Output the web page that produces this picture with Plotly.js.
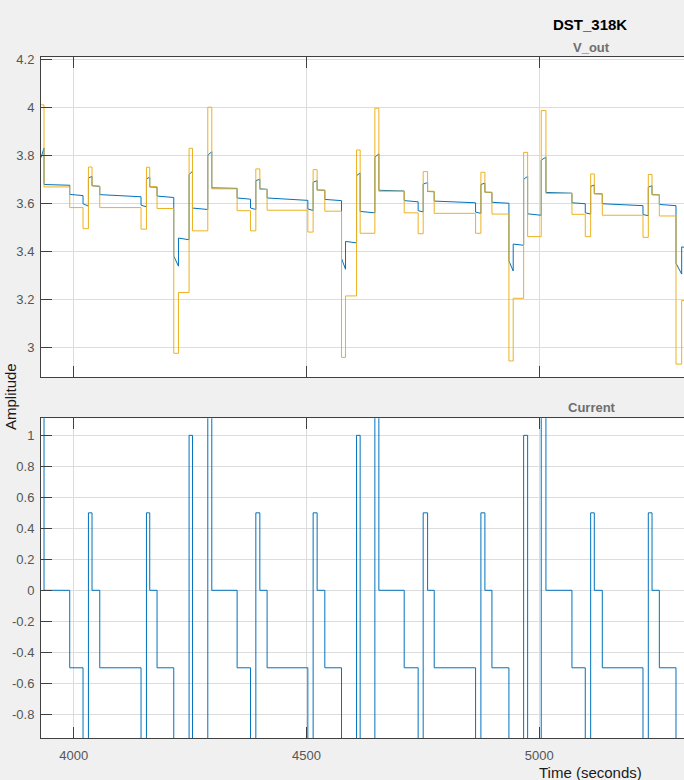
<!DOCTYPE html>
<html>
<head>
<meta charset="utf-8">
<script src="https://cdn.plot.ly/plotly-3.0.1.min.js"></script>
<style>
  html, body { margin: 0; padding: 0; background: #f0f0f0; overflow: hidden; }
  #chart { width: 684px; height: 780px; }
</style>
</head>
<body>
<div id="chart"></div>
<script>
// Start time (s) of every step of the current profile visible in the window
const stepTimes = [
  3929.7, 3936.2, 3991.4, 4020.0, 4031.6, 4039.3, 4055.9, 4144.6, 4156.2, 4163.3, 4179.0, 4214.9, 4225.0, 4247.8, 4255.1, 4288.0,
  4296.6, 4351.0, 4379.8, 4391.2, 4399.8, 4415.4, 4502.9, 4514.3, 4522.9, 4539.4, 4575.3, 4583.9, 4607.6, 4615.3, 4646.9,
  4655.5, 4709.9, 4739.9, 4750.7, 4760.2, 4774.4, 4863.3, 4874.7, 4883.3, 4898.4, 4934.9, 4944.1, 4966.5, 4975.1, 5004.3,
  5014.4, 5070.3, 5098.9, 5110.5, 5118.3, 5135.5, 5222.9, 5234.3, 5242.3, 5258.0, 5293.8, 5306.0
];
const tEnd = 5311;

// Current level of each step
const currentLevels = [
  2, 0, -0.5, -1, 0.5, 0, -0.5, -1, 0.5, 0, -0.5, -4, -2.5, 1, -1, 2,
  0, -0.5, -1, 0.5, 0, -0.5, -1, 0.5, 0, -0.5, -4, -2.5, 1, -1, 2,
  0, -0.5, -1, 0.5, 0, -0.5, -1, 0.5, 0, -0.5, -4, -2.5, 1, -1, 2,
  0, -0.5, -1, 0.5, 0, -0.5, -1, 0.5, 0, -0.5, -4, -2.5
];

// V_out, yellow signal: level in each step
const vYellow = [
  4.010, 3.668, 3.582, 3.494, 3.751, 3.672, 3.582, 3.492, 3.750, 3.669, 3.578, 2.975, 3.228, 3.829, 3.485, 4.000,
  3.660, 3.569, 3.485, 3.743, 3.658, 3.571, 3.480, 3.740, 3.655, 3.567, 2.958, 3.214, 3.822, 3.475, 3.996,
  3.650, 3.560, 3.473, 3.732, 3.650, 3.558, 3.475, 3.729, 3.646, 3.555, 2.943, 3.204, 3.812, 3.461, 3.986,
  3.641, 3.554, 3.461, 3.722, 3.639, 3.550, 3.458, 3.720, 3.635, 3.547, 2.930, 3.195
];

// V_out, blue signal: value at the start and at the end of each step
const vBlueStart = [
  3.790, 3.678, 3.637, 3.598, 3.705, 3.673, 3.636, 3.592, 3.702, 3.668, 3.630, 3.380, 3.455, 3.720, 3.580, 3.800,
  3.664, 3.622, 3.580, 3.694, 3.660, 3.622, 3.576, 3.688, 3.655, 3.616, 3.370, 3.441, 3.715, 3.566, 3.792,
  3.654, 3.611, 3.569, 3.680, 3.649, 3.609, 3.563, 3.678, 3.646, 3.604, 3.360, 3.430, 3.700, 3.556, 3.780,
  3.645, 3.602, 3.560, 3.670, 3.640, 3.598, 3.553, 3.667, 3.636, 3.595, 3.350, 3.418
];
const vBlueEnd = [
  3.830, 3.675, 3.632, 3.588, 3.712, 3.670, 3.627, 3.585, 3.708, 3.667, 3.624, 3.338, 3.448, 3.733, 3.574, 3.815,
  3.662, 3.617, 3.574, 3.700, 3.658, 3.612, 3.570, 3.694, 3.654, 3.611, 3.325, 3.435, 3.726, 3.560, 3.806,
  3.651, 3.606, 3.564, 3.686, 3.648, 3.602, 3.558, 3.684, 3.645, 3.600, 3.318, 3.425, 3.712, 3.550, 3.792,
  3.642, 3.598, 3.555, 3.676, 3.639, 3.590, 3.548, 3.673, 3.635, 3.590, 3.305, 3.417
];

// Tick labels
const xTickVals = [4000, 4500, 5000];
const xTickText = ['4000', '4500', '5000'];
const vTickVals = [3, 3.2, 3.4, 3.6, 3.8, 4, 4.2];
const vTickText = ['3', '3.2', '3.4', '3.6', '3.8', '4', '4.2'];
const iTickVals = [-0.8, -0.6, -0.4, -0.2, 0, 0.2, 0.4, 0.6, 0.8, 1];
const iTickText = ['-0.8', '-0.6', '-0.4', '-0.2', '0', '0.2', '0.4', '0.6', '0.8', '1'];

// ---- build traces ----
const stepX = stepTimes.concat([tEnd]);
const blueX = [], blueY = [];
for (let i = 0; i < stepTimes.length; i++) {
  const next = i + 1 < stepTimes.length ? stepTimes[i + 1] : tEnd;
  blueX.push(stepTimes[i], next);
  blueY.push(vBlueStart[i], vBlueEnd[i]);
}

const BLUE = '#0072BD', YELLOW = '#EDB120';

const traces = [
  { x: blueX, y: blueY, xaxis: 'x', yaxis: 'y',
    type: 'scatter', mode: 'lines', line: { color: BLUE, width: 1, shape: 'linear' }, hoverinfo: 'skip' },
  { x: stepX, y: vYellow.concat([vYellow[vYellow.length - 1]]), xaxis: 'x', yaxis: 'y',
    type: 'scatter', mode: 'lines', line: { color: YELLOW, width: 1, shape: 'hv' }, hoverinfo: 'skip' },
  { x: stepX, y: currentLevels.concat([currentLevels[currentLevels.length - 1]]), xaxis: 'x2', yaxis: 'y2',
    type: 'scatter', mode: 'lines', line: { color: BLUE, width: 1, shape: 'hv' }, hoverinfo: 'skip' }
];

const AX = '#404040', GRID = '#dcdcdc', TICKC = '#555555';
const FONT = 'Liberation Sans, Arial, Helvetica, sans-serif';

function xAxis(anchor, showLabels) {
  return {
    anchor: anchor, domain: [0, 1], range: [3929.7, tEnd],
    tickmode: 'array', tickvals: xTickVals, ticktext: xTickText, showticklabels: showLabels,
    ticks: 'inside', ticklen: 11, tickwidth: 1, tickcolor: AX, ticklabelstandoff: 5,
    showline: true, linecolor: AX, linewidth: 1, mirror: 'ticks',
    showgrid: true, gridcolor: GRID, gridwidth: 1, zeroline: false,
    tickfont: { family: FONT, size: 13, color: TICKC }
  };
}
function yAxis(anchor, dom, rng, vals, text) {
  return {
    anchor: anchor, domain: dom, range: rng,
    tickmode: 'array', tickvals: vals, ticktext: text,
    ticks: 'inside', ticklen: 11, tickwidth: 1, tickcolor: AX, ticklabelstandoff: 3,
    showline: true, linecolor: AX, linewidth: 1, mirror: false,
    showgrid: true, gridcolor: GRID, gridwidth: 1, zeroline: false,
    tickfont: { family: FONT, size: 13, color: TICKC }
  };
}

function px2x(px) { return (px - 41) / 643; }
function py2y(py) { return 1 - py / 780; }

const layout = {
  width: 684, height: 780,
  paper_bgcolor: '#f0f0f0', plot_bgcolor: '#ffffff',
  margin: { l: 41, r: 0, t: 0, b: 0, pad: 0 },
  showlegend: false,
  font: { family: FONT, size: 13, color: TICKC },
  xaxis: xAxis('y', false),
  yaxis: yAxis('x', [0.51628, 0.92654], [2.875, 4.208], vTickVals, vTickText),
  xaxis2: xAxis('y2', true),
  yaxis2: yAxis('x2', [0.05346, 0.46372], [-0.955, 1.11], iTickVals, iTickText),
  annotations: [
    { text: 'DST_318K', xref: 'paper', yref: 'paper', x: px2x(589.5), y: py2y(24),
      xanchor: 'center', yanchor: 'middle', showarrow: false,
      font: { family: FONT, size: 15, color: '#000000', weight: 'bold' } },
    { text: 'V_out', xref: 'paper', yref: 'paper', x: px2x(591.5), y: py2y(47),
      xanchor: 'center', yanchor: 'middle', showarrow: false,
      font: { family: FONT, size: 13, color: '#6e6e6e', weight: 'bold' } },
    { text: 'Current', xref: 'paper', yref: 'paper', x: px2x(592), y: py2y(407),
      xanchor: 'center', yanchor: 'middle', showarrow: false,
      font: { family: FONT, size: 13, color: '#6e6e6e', weight: 'bold' } },
    { text: 'Time (seconds)', xref: 'paper', yref: 'paper', x: px2x(590.8), y: py2y(772),
      xanchor: 'center', yanchor: 'middle', showarrow: false,
      font: { family: FONT, size: 15, color: '#1a1a1a' } },
    { text: 'Amplitude', xref: 'paper', yref: 'paper', x: px2x(10), y: py2y(397),
      xanchor: 'center', yanchor: 'middle', textangle: -90, showarrow: false,
      font: { family: FONT, size: 15, color: '#1a1a1a' } }
  ]
};

Plotly.newPlot('chart', traces, layout, { displayModeBar: false, staticPlot: true });
</script>
</body>
</html>
